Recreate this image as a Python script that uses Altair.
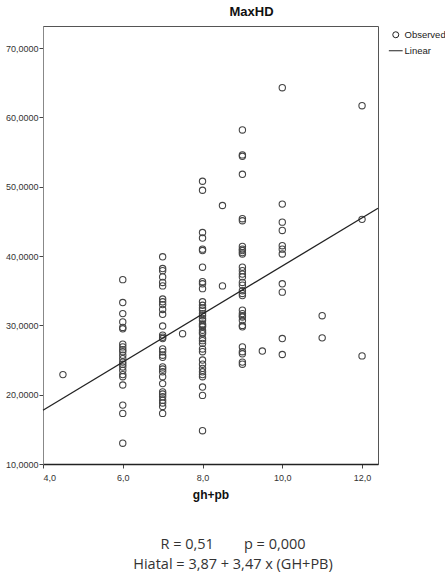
import altair as alt
import pandas as pd

# ---- data ----
gh_pb_groups = [4.5, 6.0, 7.0, 7.5, 8.0, 8.5, 9.0, 9.5, 10.0, 11.0, 12.0]
maxhd_by_group = [
    [22.9],
    [36.6, 33.3, 31.7, 30.5, 29.7, 29.5, 27.3, 26.9, 26.5, 26.2, 25.7, 25.2,
     24.7, 24.4, 24.0, 23.5, 22.9, 22.6, 21.4, 18.5, 17.3, 13.0],
    [39.9, 38.2, 37.9, 37.0, 36.2, 35.7, 33.8, 33.4, 33.0, 32.3, 31.6, 29.9,
     28.6, 28.3, 28.1, 26.6, 26.2, 25.7, 25.4, 24.0, 23.7, 23.3, 22.6, 21.6,
     20.4, 20.1, 19.7, 19.2, 18.8, 18.3, 17.3],
    [28.8],
    [50.8, 49.5, 43.4, 42.6, 41.0, 40.8, 38.4, 36.3, 36.0, 35.3, 33.4, 32.9,
     32.5, 32.2, 31.7, 31.4, 31.0, 30.7, 30.2, 30.0, 29.8, 29.3, 29.0, 28.8,
     28.1, 27.8, 27.4, 26.6, 26.2, 25.0, 24.4, 23.8, 23.3, 22.9, 22.6, 21.1,
     19.9, 14.8],
    [47.3, 35.7],
    [58.2, 54.6, 54.4, 51.8, 45.4, 45.1, 41.4, 41.0, 40.8, 40.5, 40.3, 38.4,
     37.9, 37.4, 37.0, 36.2, 35.8, 35.0, 34.6, 34.3, 32.2, 31.7, 31.4, 31.2,
     30.7, 30.0, 29.8, 26.9, 26.2, 25.9, 24.7, 24.4],
    [26.3],
    [64.3, 47.5, 44.9, 43.7, 41.5, 41.0, 40.3, 36.0, 34.8, 28.1, 25.8],
    [31.4, 28.2],
    [61.7, 45.3, 25.6],
]

# fitted line as read at the left and right edges of the plot
line_x = [4.0, 12.4]
line_y = [17.75, 46.9]

x_ticks = [4, 6, 8, 10, 12]
y_ticks = [10, 20, 30, 40, 50, 60, 70]
legend_items = ["Observed", "Linear"]

chart_title = "MaxHD"
x_title = "gh+pb"
stat_line1 = "R = 0,51\u00a0\u00a0\u00a0\u00a0\u00a0\u00a0\u00a0\u00a0p = 0,000"
stat_line2 = "Hiatal = 3,87 + 3,47 x (GH+PB)"

# ---- tables ----
rows = []
for g, vals in zip(gh_pb_groups, maxhd_by_group):
    for v in vals:
        rows.append({"gh": g, "v": v, "series": "Observed"})
df = pd.DataFrame(rows)
line_df = pd.DataFrame({"gh": line_x, "v": line_y})

NARROW = "Liberation Sans Narrow, Arial Narrow, Liberation Sans, sans-serif"

x_scale = alt.Scale(domain=[4, 12.4], nice=False, zero=False)
y_scale = alt.Scale(domain=[10, 73.2], nice=False, zero=False)

points = alt.Chart(df).mark_point(
    filled=False, size=40, strokeWidth=1.1, color="#444", opacity=1
).encode(
    x=alt.X("gh:Q", scale=x_scale,
            axis=alt.Axis(values=x_ticks, title=x_title,
                          labelExpr="replace(format(datum.value, '.1f'), '.', ',')")),
    y=alt.Y("v:Q", scale=y_scale,
            axis=alt.Axis(values=y_ticks, title=None,
                          labelExpr="replace(format(datum.value, '.4f'), '.', ',')")),
    shape=alt.Shape("series:N",
                    scale=alt.Scale(domain=legend_items,
                                    range=["circle", "M-2.3,0L2.3,0"]),
                    legend=alt.Legend(title=None, orient="none", legendX=348,
                                      legendY=4, labelFont=NARROW, labelFontSize=9.5,
                                      labelColor="#222", labelOffset=4,
                                      rowPadding=5, symbolStrokeColor="#222",
                                      symbolFillColor="transparent",
                                      symbolStrokeWidth=1, symbolSize=36,
                                      labelLimit=60)),
)

line = alt.Chart(line_df).mark_line(color="#222", strokeWidth=1.3).encode(
    x=alt.X("gh:Q", scale=x_scale),
    y=alt.Y("v:Q", scale=y_scale),
)

stats1 = alt.Chart(pd.DataFrame({"t": [stat_line1]})).mark_text(
    font="Open Sans", fontSize=14.5, color="#333", align="center", baseline="middle"
).encode(x=alt.value(190), y=alt.value(519), text="t:N")

stats2 = alt.Chart(pd.DataFrame({"t": [stat_line2]})).mark_text(
    font="Open Sans", fontSize=14.5, color="#333", align="center", baseline="middle"
).encode(x=alt.value(190), y=alt.value(539), text="t:N")

chart = alt.layer(points, line, stats1, stats2).properties(
    width=335,
    height=438,
    padding={"left": 43, "top": 26, "right": 67, "bottom": 111},
    autosize=alt.AutoSizeParams(type="none"),
    title=alt.TitleParams(chart_title, font="Liberation Sans", fontSize=13,
                          fontWeight="bold", color="#111", offset=7, dx=41),
).configure_view(
    stroke="#555", strokeWidth=1
).configure_axis(
    grid=False, tickSize=4, tickColor="#444", labelFont=NARROW,
    labelFontSize=9, labelColor="#333",
).configure_axisY(
    domainColor="#888", labelPadding=1,
).configure_axisX(
    domainColor="#222", domainWidth=1.6, labelPadding=5,
    titleFont="Liberation Sans", titleFontSize=12, titleFontWeight="bold",
    titleColor="#111", titlePadding=7,
)

chart.save("out.html", embed_options={"renderer": "svg", "actions": False})
